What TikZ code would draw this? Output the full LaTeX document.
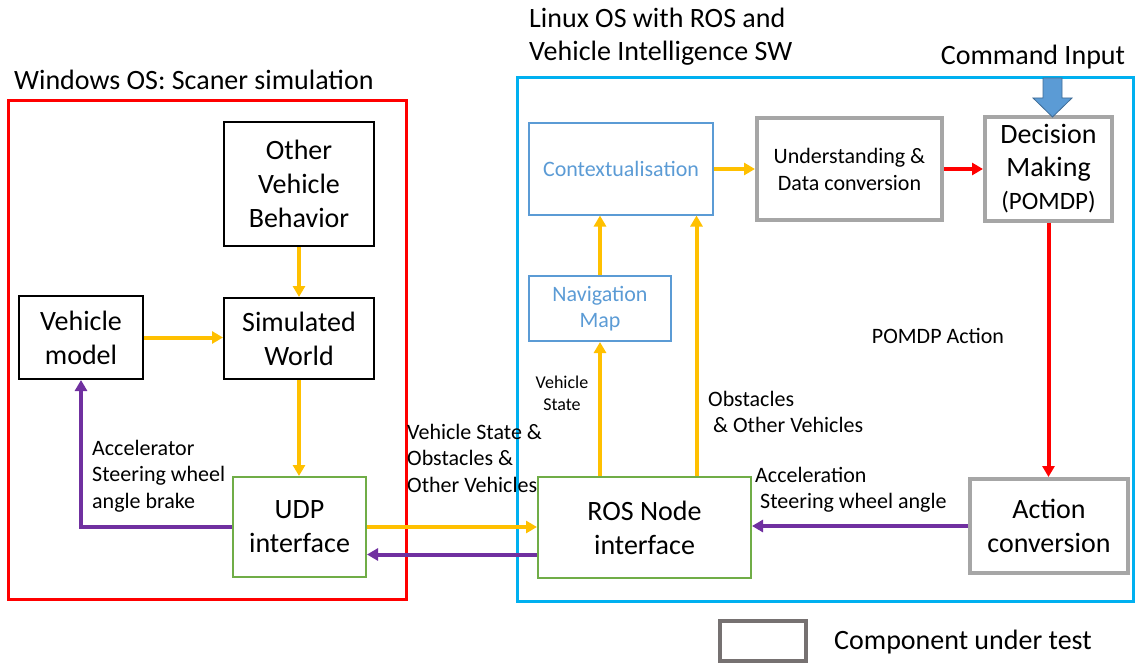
\documentclass[tikz,border=0pt]{standalone}
\usepackage{fontspec}
\setmainfont{Carlito}
\usetikzlibrary{arrows.meta,calc}
\definecolor{winred}{RGB}{255,0,0}
\definecolor{linuxblue}{RGB}{0,176,240}
\definecolor{dataflow}{RGB}{255,192,0}
\definecolor{cmdflow}{RGB}{112,48,160}
\definecolor{ifgreen}{RGB}{112,173,71}
\definecolor{testgray}{RGB}{166,166,166}
\definecolor{softblue}{RGB}{91,155,213}
\definecolor{legendgray}{RGB}{118,113,113}
\tikzset{block/.style={draw,line width=2pt,align=center,inner sep=0pt,font=\fontsize{28}{34}\selectfont},
 simbox/.style={block,draw=black},
 ifbox/.style={block,draw=ifgreen},
 testbox/.style={block,draw=testgray,line width=4pt},
 infobox/.style={block,draw=softblue,text=softblue,font=\fontsize{22}{26.5}\selectfont},
 flow/.style={-{Triangle[length=11pt,width=12pt]},line width=4pt,dataflow},
 ctrl/.style={flow,cmdflow},
 act/.style={flow,winred},
 lbl/.style={inner sep=0pt,align=left,font=\fontsize{22}{26.5}\selectfont}}

\begin{document}
\begin{tikzpicture}[x=1pt,y=-1pt]
\useasboundingbox (0,0) rectangle (1137,663);
\draw[winred,line width=3pt] (8,101) rectangle (406,599);
\draw[linuxblue,line width=3pt] (517,78) rectangle (1133,601);
\node[lbl,anchor=west,font=\fontsize{28}{34}\selectfont] (wintitle) at (14,80) {Windows OS: Scaner simulation};
\node[lbl,anchor=west,font=\fontsize{28}{33}\selectfont] (linuxtitle) at (529,37) {Linux OS with ROS and\\Vehicle Intelligence SW};
\node[lbl,font=\fontsize{28}{34}\selectfont] (cmdtitle) at (1033,57) {Command Input};

\node[simbox,minimum width=150pt,minimum height=124pt] (other) at (299,184) {Other\\Vehicle\\Behavior};
\node[simbox,minimum width=124pt,minimum height=83pt] (vmodel) at (81,337.5) {Vehicle\\model};
\node[simbox,minimum width=150pt,minimum height=81pt] (simw) at (299,338.5) {Simulated\\World};
\node[ifbox,minimum width=133pt,minimum height=100pt] (udp) at (299.5,527) {UDP\\interface};
\node[ifbox,minimum width=213pt,minimum height=101pt] (ros) at (644.5,527.5) {ROS Node\\interface};
\node[testbox,minimum width=158pt,minimum height=94pt] (action) at (1049,526) {Action\\conversion};
\node[infobox,minimum width=184pt,minimum height=91pt] (ctx) at (621,169) {Contextualisation};
\node[infobox,minimum width=142pt,minimum height=65pt] (navmap) at (600,308.5) {Navigation\\Map};
\node[testbox,minimum width=185pt,minimum height=102pt,font=\fontsize{22}{27}\selectfont] (und) at (849.5,169) {Understanding \&\\Data conversion};
\node[testbox,minimum width=127pt,minimum height=103pt,font=\fontsize{28}{33}\selectfont] (dm) at (1048.5,169) {Decision\\Making\\\fontsize{25}{33}\selectfont(POMDP)};

\node[testbox,draw=legendgray,minimum width=86pt,minimum height=40pt] (legbox) at (763,641) {};
\node[lbl,anchor=west,font=\fontsize{28}{34}\selectfont] (legtext) at (834,642) {Component under test};

\node[lbl,anchor=west] (udpcmd) at (92,476) {Accelerator\\Steering wheel\\angle brake};
\node[lbl,anchor=west] (udpdata) at (407,458) {Vehicle State \&\\Obstacles \&\\Other Vehicles};
\node[lbl,align=center,font=\fontsize{18}{22}\selectfont] (vstate) at (562,393) {Vehicle\\State};
\node[lbl,anchor=west] (obst) at (708,412) {Obstacles\\\hspace{5pt}\& Other Vehicles};
\node[lbl] (pomdpact) at (938,336) {POMDP Action};
\node[lbl,anchor=west] (rosin) at (755,489.5) {Acceleration\\\hspace{5pt}Steering wheel angle};

\draw[flow] (other.south) -- (other.south |- simw.north);
\draw[flow] (vmodel.east) -- (vmodel.east -| simw.west);
\draw[flow] (simw.south) -- (simw.south |- udp.north);
\draw[ctrl] (udp.west) -| (vmodel.south);
\draw[flow] (udp.east) -- (udp.east -| ros.west);
\draw[ctrl] ([yshift=-27pt]ros.west) -- ([yshift=-27pt]ros.west -| udp.east);
\draw[flow] (navmap.south |- ros.north) -- (navmap.south);
\draw[flow] (navmap.north) -- (navmap.north |- ctx.south);
\draw[flow] ([xshift=52pt]ros.north) -- ([xshift=52pt]ros.north |- ctx.south);
\draw[flow] (ctx) -- (und);
\draw[act] (und) -- (dm);
\draw[act] (dm.south) -- (dm.south |- action.north);
\draw[ctrl] (action.west) -- (action.west -| ros.east);

\coordinate (cmdtip) at (1052.5,117);
\filldraw[fill=softblue,draw=softblue!70!black,line width=0.8pt] (cmdtip) -- ++(-19.5,-19) -- ++(10,0) -- ++(0,-20) -- ++(19,0) -- ++(0,20) -- ++(10,0) -- cycle;
\end{tikzpicture}
\end{document}
